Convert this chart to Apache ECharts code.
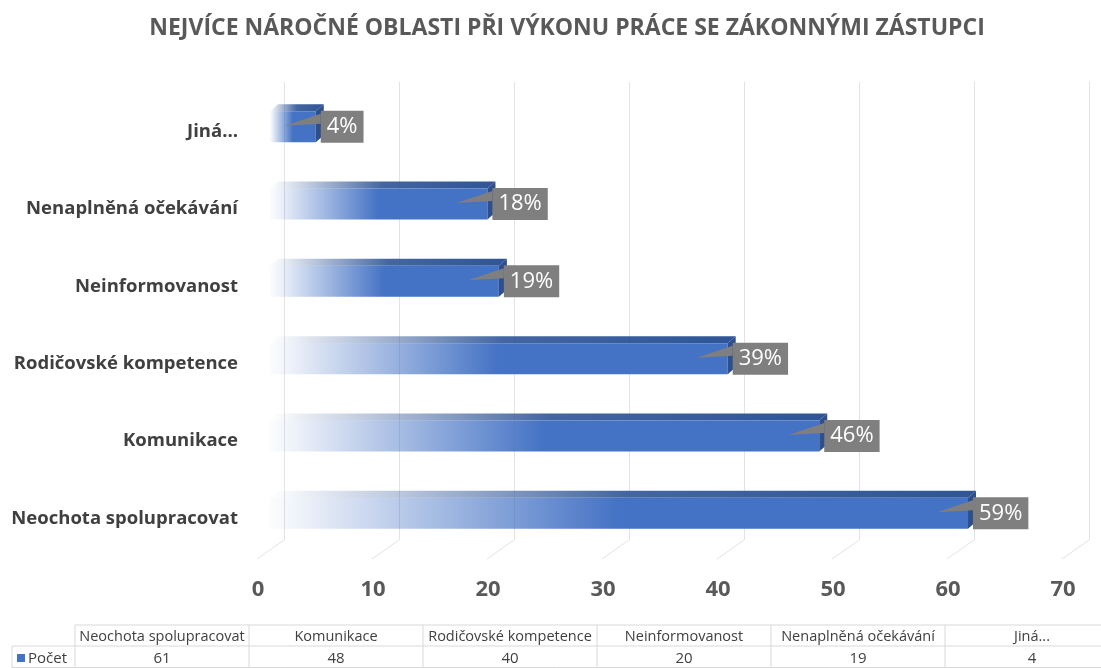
<!DOCTYPE html>
<html>
<head>
<meta charset="utf-8">
<title>Nejvíce náročné oblasti</title>
<script src="https://cdn.jsdelivr.net/npm/echarts@6/dist/echarts.min.js"></script>
<style>
    html, body { margin: 0; padding: 0; background: #fff; }
    #main { width: 1101px; height: 668px; }
</style>
</head>
<body>
<div id="main"></div>
<script>
// data
var categories = ['Neochota spolupracovat', 'Komunikace', 'Rodičovské kompetence', 'Neinformovanost', 'Nenaplněná očekávání', 'Jiná…'];
var tableHeads = ['Neochota spolupracovat', 'Komunikace', 'Rodičovské kompetence', 'Neinformovanost', 'Nenaplněná očekávání', 'Jiná...'];
var counts = [61, 48, 40, 20, 19, 4];
var percents = ['59%', '46%', '39%', '19%', '18%', '4%'];
var seriesName = 'Počet';
var xTicks = [0, 10, 20, 30, 40, 50, 60, 70];

var FONT = '"Open Sans", "DejaVu Sans", sans-serif';
var BLUE = '#4472C4';
var DARK = '#2F5597';
var GRAY = '#7F7F7F';

var myChart = echarts.init(document.getElementById('main'));

var barData = counts.map(function (v, i) { return [v, i]; });
var tickData = xTicks.map(function (t) { return [t, 0]; });

// 3d-ish bar: front face, top face, right face + callout label
function renderBar(params, api) {
    var val = api.value(0), cat = api.value(1);
    var p0 = api.coord([0, cat]);
    var p1 = api.coord([val, cat]);
    var h = 31, dx = 8, dy = 7;
    var x0 = p0[0], x1 = p1[0], cy = p0[1];
    var yT = cy - h / 2, yB = cy + h / 2;
    var text = percents[params.dataIndex];
    var bx = x1 + 5;
    return {
        type: 'group',
        children: [
            {
                type: 'polygon',
                shape: { points: [[x0, yT], [x1, yT], [x1 + dx, yT - dy], [x0 + dx, yT - dy]] },
                style: {
                    fill: new echarts.graphic.LinearGradient(0, 0, 1, 0, [
                        { offset: 0, color: 'rgba(47,85,151,0)' },
                        { offset: 0.5, color: 'rgba(47,85,151,0.9)' },
                        { offset: 1, color: DARK }
                    ])
                }
            },
            {
                type: 'rect',
                shape: { x: x0, y: yT, width: x1 - x0, height: h },
                style: {
                    fill: new echarts.graphic.LinearGradient(0, 0, 1, 0, [
                        { offset: 0, color: 'rgba(68,114,196,0.02)' },
                        { offset: 0.05, color: 'rgba(68,114,196,0.1)' },
                        { offset: 0.5, color: BLUE },
                        { offset: 1, color: BLUE }
                    ])
                }
            },
            {
                type: 'polygon',
                shape: { points: [[x1, yT], [x1 + dx, yT - dy], [x1 + dx, yB - dy], [x1, yB]] },
                style: { fill: '#2E4F8C' }
            },
            {
                type: 'polygon',
                shape: { points: [[bx, cy - 13], [bx, cy - 3], [x1 - 31, cy - 1]] },
                style: { fill: GRAY }
            },
            {
                type: 'text',
                x: bx,
                y: cy,
                style: {
                    text: text,
                    fill: '#fff',
                    fontSize: 22,
                    fontFamily: FONT,
                    backgroundColor: GRAY,
                    padding: [5, 6, 5, 6],
                    align: 'left',
                    verticalAlign: 'middle'
                }
            }
        ]
    };
}

// floor lines under the back grid lines
function renderFloor(params, api) {
    var p = api.coord([api.value(0), 0]);
    return {
        type: 'line',
        shape: { x1: p[0], y1: p[1], x2: p[0] - 27, y2: p[1] + 19 },
        style: { stroke: '#E3E3E3', lineWidth: 1 }
    };
}

// data table under the chart
var colX = 75, colW = 174, rowTop = 625, rowMid = 646, rowBot = 668;
var tableGraphics = [];
var lineStyle = { stroke: '#D9D9D9', lineWidth: 1 };
tableGraphics.push({ type: 'line', shape: { x1: colX, y1: rowTop, x2: 1101, y2: rowTop }, style: lineStyle });
tableGraphics.push({ type: 'line', shape: { x1: 12, y1: rowMid, x2: 1101, y2: rowMid }, style: lineStyle });
tableGraphics.push({ type: 'line', shape: { x1: 12, y1: rowBot - 0.5, x2: 1101, y2: rowBot - 0.5 }, style: lineStyle });
tableGraphics.push({ type: 'line', shape: { x1: 12, y1: rowMid, x2: 12, y2: rowBot }, style: lineStyle });
for (var i = 0; i <= tableHeads.length; i++) {
    var lx = colX + colW * i;
    tableGraphics.push({ type: 'line', shape: { x1: lx, y1: rowTop, x2: lx, y2: rowBot }, style: lineStyle });
}
tableHeads.forEach(function (name, i) {
    var cx = colX + colW * i + colW / 2;
    tableGraphics.push({
        type: 'text', x: cx, y: (rowTop + rowMid) / 2 + 1,
        style: { text: name, fill: '#404040', fontSize: 14.5, fontFamily: FONT, align: 'center', verticalAlign: 'middle', textAlign: 'center', textVerticalAlign: 'middle' }
    });
    tableGraphics.push({
        type: 'text', x: cx, y: (rowMid + rowBot) / 2 + 2,
        style: { text: String(counts[i]), fill: '#404040', fontSize: 15, fontFamily: FONT, align: 'center', verticalAlign: 'middle', textAlign: 'center', textVerticalAlign: 'middle' }
    });
});
tableGraphics.push({ type: 'rect', shape: { x: 17, y: 654, width: 8, height: 8 }, style: { fill: BLUE } });
tableGraphics.push({
    type: 'text', x: 28, y: (rowMid + rowBot) / 2 + 2,
    style: { text: seriesName, fill: '#404040', fontSize: 15, fontFamily: FONT, align: 'left', verticalAlign: 'middle', textAlign: 'left', textVerticalAlign: 'middle' }
});

var option = {
    animation: false,
    backgroundColor: '#fff',
    title: {
        text: 'NEJVÍCE NÁROČNÉ OBLASTI PŘI VÝKONU PRÁCE SE ZÁKONNÝMI ZÁSTUPCI',
        left: 562,
        textAlign: 'center',
        top: 12,
        textStyle: { fontFamily: FONT, fontSize: 23, fontWeight: 'bold', color: '#595959' }
    },
    grid: [
        // back plane (grid lines)
        { left: 284, top: 82, width: 805, height: 458, outerBoundsMode: 'none' },
        // bars
        { left: 270, top: 88, width: 801, height: 464, outerBoundsMode: 'none' },
        // axis numbers
        { left: 258, top: 540, width: 805, height: 25, outerBoundsMode: 'none' },
        // category names (sit a little lower than the bars)
        { left: 270, top: 93, width: 801, height: 464, outerBoundsMode: 'none' }
    ],
    xAxis: [
        {
            gridIndex: 0, type: 'value', min: 0, max: 70, interval: 10,
            axisLine: { show: false }, axisTick: { show: false }, axisLabel: { show: false },
            splitLine: { show: true, lineStyle: { color: '#E3E3E3', width: 1 } }
        },
        {
            gridIndex: 1, type: 'value', min: 0, max: 70, interval: 10, show: false
        },
        {
            gridIndex: 2, type: 'value', min: 0, max: 70, interval: 10,
            axisLine: { show: false }, axisTick: { show: false }, splitLine: { show: false },
            axisLabel: { fontFamily: FONT, fontSize: 22, fontWeight: 'bold', color: '#595959', margin: 14 }
        },
        {
            gridIndex: 3, type: 'value', min: 0, max: 70, interval: 10, show: false
        }
    ],
    yAxis: [
        { gridIndex: 0, type: 'value', min: 0, max: 1, show: false },
        { gridIndex: 1, type: 'category', data: categories, show: false },
        { gridIndex: 2, type: 'value', min: 0, max: 1, show: false },
        {
            gridIndex: 3, type: 'category', data: categories,
            axisLine: { show: false }, axisTick: { show: false }, splitLine: { show: false },
            axisLabel: { fontFamily: FONT, fontSize: 18.5, fontWeight: 'bold', color: '#404040', margin: 32 }
        }
    ],
    series: [
        {
            type: 'custom', name: 'floor', xAxisIndex: 0, yAxisIndex: 0,
            renderItem: renderFloor, data: tickData, silent: true, z: 1
        },
        {
            type: 'custom', name: seriesName, xAxisIndex: 1, yAxisIndex: 1,
            renderItem: renderBar, data: barData, encode: { x: 0, y: 1 }, z: 5
        }
    ],
    graphic: tableGraphics
};

myChart.setOption(option);
</script>
</body>
</html>
